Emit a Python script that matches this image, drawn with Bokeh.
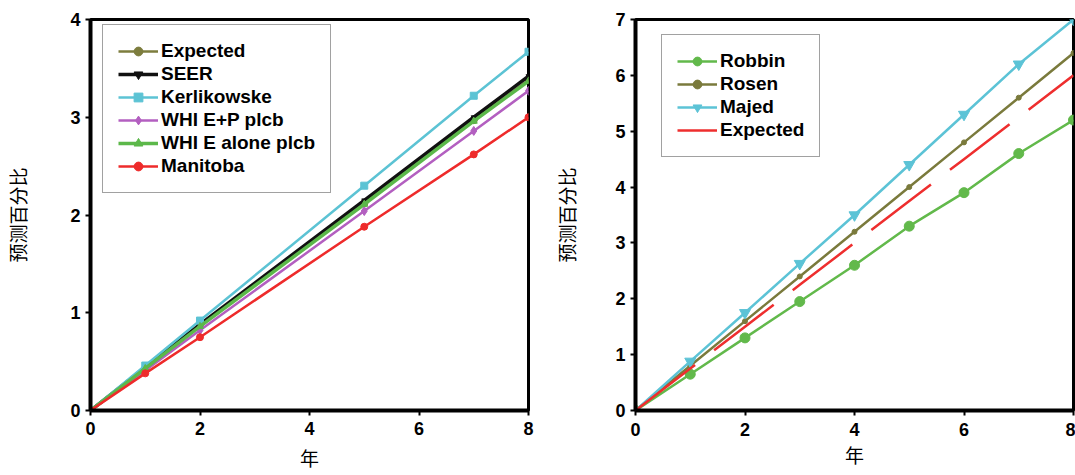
from bokeh.plotting import figure
from bokeh.models import Legend, LegendItem, Range1d, FixedTicker
from bokeh.layouts import row
from bokeh.embed import file_html
from bokeh.resources import INLINE

# Left panel: predicted percentage by year for each cohort
years_left = [0, 1, 2, 5, 7, 8]
expected_left = [0, 0.43, 0.87, 2.12, 2.97, 3.38]
seer = [0, 0.44, 0.88, 2.15, 3.00, 3.42]
kerlikowske = [0, 0.46, 0.92, 2.30, 3.22, 3.67]
whi_ep_plcb = [0, 0.41, 0.82, 2.04, 2.86, 3.27]
whi_e_alone_plcb = [0, 0.43, 0.86, 2.11, 2.96, 3.37]
manitoba = [0, 0.38, 0.75, 1.88, 2.62, 3.00]

# Right panel: predicted percentage by year for each study
years_right = [0, 1, 2, 3, 4, 5, 6, 7, 8]
robbin = [0, 0.65, 1.30, 1.95, 2.60, 3.30, 3.90, 4.60, 5.20]
rosen = [0, 0.80, 1.60, 2.40, 3.20, 4.00, 4.80, 5.60, 6.40]
majed = [0, 0.88, 1.75, 2.63, 3.50, 4.40, 5.30, 6.20, 7.00]
expected_right = [0, 0.75, 1.50, 2.25, 3.00, 3.75, 4.50, 5.25, 6.00]

x_ticks = [0, 2, 4, 6, 8]
y_ticks_left = [0, 1, 2, 3, 4]
y_ticks_right = [0, 1, 2, 3, 4, 5, 6, 7]

Y_TITLE = "预测百分比"
X_TITLE = "年"


def style(p, xt, yt):
    p.outline_line_color = "black"
    p.outline_line_width = 3
    p.outline_line_alpha = 1
    p.xgrid.visible = False
    p.ygrid.visible = False
    p.background_fill_color = "white"
    p.border_fill_color = "white"
    p.xaxis.ticker = FixedTicker(ticks=xt)
    p.yaxis.ticker = FixedTicker(ticks=yt)
    for ax in (p.xaxis[0], p.yaxis[0]):
        ax.axis_line_color = "black"
        ax.axis_line_width = 4
        ax.major_tick_line_color = "black"
        ax.major_tick_line_width = 2
        ax.major_tick_out = 5
        ax.major_tick_in = 0
        ax.minor_tick_line_color = None
        ax.major_label_text_font = "Liberation Sans"
        ax.major_label_text_font_style = "bold"
        ax.major_label_text_font_size = "18px"
        ax.major_label_text_color = "black"
        ax.axis_label_text_font = "Noto Sans CJK SC"
        ax.axis_label_text_font_style = "normal"
        ax.axis_label_text_font_size = "19px"
        ax.axis_label_text_color = "black"
    p.yaxis.major_label_standoff = 5


def make_legend(items, loc):
    lg = Legend(items=items, location=loc)
    lg.border_line_color = "#444444"
    lg.border_line_width = 1
    lg.background_fill_color = "white"
    lg.background_fill_alpha = 1
    lg.label_text_font = "Liberation Sans"
    lg.label_text_font_style = "bold"
    lg.label_text_font_size = "19px"
    lg.label_text_color = "black"
    lg.glyph_width = 40
    lg.glyph_height = 22
    lg.label_height = 22
    lg.spacing = 1
    lg.padding = 15
    lg.label_standoff = 3
    lg.margin = 0
    return lg


# ---------- left figure ----------
p1 = figure(width=540, height=475, output_backend="svg", toolbar_location=None,
            x_range=Range1d(0, 8), y_range=Range1d(0, 4),
            min_border_left=90, min_border_right=12,
            min_border_top=15, min_border_bottom=65)
style(p1, x_ticks, y_ticks_left)
p1.xaxis.axis_label = X_TITLE
p1.yaxis.axis_label = Y_TITLE
p1.yaxis.axis_label_standoff = 36
p1.xaxis.major_label_standoff = 6
p1.xaxis.axis_label_standoff = 6

left_series = [
    ("Expected", expected_left, "#7d7d3e", 2.5, "circle", 7),
    ("SEER", seer, "#111111", 3.5, "inverted_triangle", 5),
    ("Kerlikowske", kerlikowske, "#5cc3d4", 2.5, "square", 7),
    ("WHI E+P plcb", whi_ep_plcb, "#b35fc0", 2.5, "diamond", 9),
    ("WHI E alone plcb", whi_e_alone_plcb, "#5cb84a", 3.5, "triangle", 7),
    ("Manitoba", manitoba, "#ee2b2b", 2.5, "circle", 7),
]
items1 = []
for name, ys, col, lw, mk, sz in left_series:
    r_line = p1.line(years_left, ys, line_color=col, line_width=lw)
    r_pts = p1.scatter(years_left, ys, marker=mk, size=sz, fill_color=col, line_color=col)
    items1.append(LegendItem(label=name, renderers=[r_line, r_pts]))
p1.add_layout(make_legend(items1, (12, 217)))

# ---------- right figure ----------
p2 = figure(width=535, height=475, output_backend="svg", toolbar_location=None,
            x_range=Range1d(0, 8), y_range=Range1d(0, 7),
            min_border_left=95, min_border_right=2,
            min_border_top=19, min_border_bottom=62)
style(p2, x_ticks, y_ticks_right)
p2.xaxis.axis_label = X_TITLE
p2.yaxis.axis_label = Y_TITLE
p2.yaxis.axis_label_standoff = 32
p2.xaxis.major_label_standoff = 7
p2.xaxis.axis_label_standoff = 2

items2 = []
r = p2.line(years_right, robbin, line_color="#62b94b", line_width=2.5)
s = p2.scatter(years_right, robbin, marker="circle", size=10, fill_color="#62b94b", line_color="#62b94b")
items2.append(LegendItem(label="Robbin", renderers=[r, s]))
r = p2.line(years_right, rosen, line_color="#7a7a3c", line_width=2.5)
s = p2.scatter(years_right, rosen, marker="circle", size=5, fill_color="#7a7a3c", line_color="#7a7a3c")
items2.append(LegendItem(label="Rosen", renderers=[r, s]))
r = p2.line(years_right, majed, line_color="#5cc3d6", line_width=2.5)
s = p2.scatter(years_right, majed, marker="inverted_triangle", size=11, fill_color="#5cc3d6", line_color="#5cc3d6")
items2.append(LegendItem(label="Majed", renderers=[r, s]))
r = p2.line(years_right, expected_right, line_color="#ee2e2e", line_width=2.5, line_dash="75 24")
items2.append(LegendItem(label="Expected", renderers=[r]))
p2.add_layout(make_legend(items2, (26, 253)))

layout = row(p1, p2)
open("out.html", "w").write(file_html(layout, INLINE))
